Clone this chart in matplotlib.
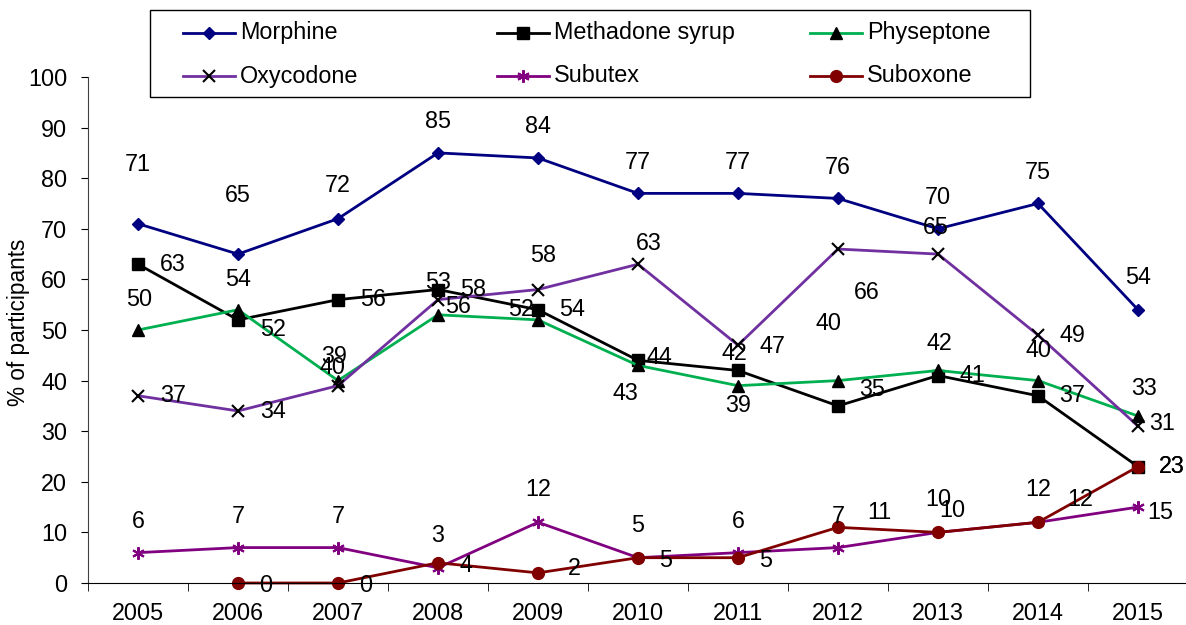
import numpy as np
import matplotlib
matplotlib.use('Agg')
import matplotlib.pyplot as plt
from matplotlib.lines import Line2D
from matplotlib.patches import Rectangle

plt.rcParams['font.family'] = ['Liberation Sans', 'DejaVu Sans']

# data
years = ['2005', '2006', '2007', '2008', '2009', '2010', '2011', '2012', '2013', '2014', '2015']
morphine = [71, 65, 72, 85, 84, 77, 77, 76, 70, 75, 54]
methadone = [63, 52, 56, 58, 54, 44, 42, 35, 41, 37, 23]
physeptone = [50, 54, 40, 53, 52, 43, 39, 40, 42, 40, 33]
oxycodone = [37, 34, 39, 56, 58, 63, 47, 66, 65, 49, 31]
subutex = [6, 7, 7, 3, 12, 5, 6, 7, 10, 12, 15]
suboxone = [np.nan, 0, 0, 4, 2, 5, 5, 11, 10, 12, 23]

# label offsets in pixels (right, down) as placed in the original
morph_off = [(0, -59), (0, -59), (0, -33), (0, -31), (0, -31), (0, -31), (0, -31), (0, -31), (0, -31), (0, -31), (0, -32)]
meth_off = [(35, 0), (35, 10), (35, 0), (35, 0), (34, 0), (21, -3), (-4, -17), (34, -16), (34, 0), (34, 0), (34, 0)]
phys_off = [(1, -31), (0, -30), (-6, -13), (0, -32), (-17, -10), (-13, 28), (0, 20), (-9, -57), (1, -27), (0, -30), (6, -28)]
oxy_off = [(35, 0), (35, 1), (-4, -29), (20, 7), (5, -34), (11, -21), (34, 1), (29, 43), (-2, -27), (34, 0), (24, -3)]
subu_off = [(0, -31), (0, -31), (0, -31), (0, -32), (0, -33), (0, -32), (0, -31), (0, -31), (0, -33), (0, -33), (22, 5)]
subo_off = [None, (28, 2), (28, 2), (28, 3), (36, -4), (28, 3), (28, 3), (41, -15), (14, -22), (42, -23), (34, 0)]

series = [
    ('Morphine', morphine, morph_off, dict(color='#000080', marker='D', ms=6.5, mfc='#000080', mec='#000080')),
    ('Methadone syrup', methadone, meth_off, dict(color='black', marker='s', ms=8, mfc='black', mec='black')),
    ('Physeptone', physeptone, phys_off, dict(color='#00B050', marker='^', ms=9, mfc='black', mec='black')),
    ('Oxycodone', oxycodone, oxy_off, dict(color='#7030A0', marker='x', ms=8, mfc='black', mec='black', mew=1.5)),
    ('Subutex', subutex, subu_off, dict(color='#800080', marker=(6, 2, 0), ms=9, mfc='#800080', mec='#800080', mew=1.5)),
    ('Suboxone', suboxone, subo_off, dict(color='#800000', marker='o', ms=8.5, mfc='#800000', mec='#800000')),
]

FS = 16.8
W, H = 1186, 625
fig = plt.figure(figsize=(W / 100, H / 100), dpi=100)
ax = fig.add_axes([88 / W, (H - 583) / H, 1100 / W, (583 - 77) / H])

x = np.arange(len(years))
for name, vals, offs, st in series:
    ax.plot(x, vals, lw=2, clip_on=False, **st)
for name, vals, offs, st in series:
    for i, v in enumerate(vals):
        if offs[i] is None or np.isnan(v):
            continue
        dx, dy = offs[i]
        ax.annotate(str(int(v)), (x[i], v), xytext=(dx, -dy), textcoords='offset pixels',
                    ha='center', va='center', fontsize=FS)

ax.set_xlim(-0.5, len(years) - 0.5)
ax.set_ylim(0, 100)
ax.set_yticks(range(0, 101, 10))
ax.set_xticks(x)
ax.set_xticklabels(years)
ax.set_xticks(np.arange(-0.5, len(years), 1), minor=True)
ax.tick_params(axis='x', which='major', length=0, labelsize=FS, pad=14)
ax.tick_params(axis='x', which='minor', length=5.5, direction='out')
ax.tick_params(axis='y', length=5, direction='out', labelsize=FS, pad=10)
ax.spines['top'].set_visible(False)
ax.spines['right'].set_visible(False)
ax.spines['left'].set_color('#404040')

# y axis title placed where the original has it
fig.text(19 / W, 1 - 322 / H, '% of participants', rotation=90, ha='center', va='center', fontsize=16.3)

# legend box drawn by hand, Excel-style evenly spaced columns
fig.add_artist(Rectangle((150 / W, 1 - 97 / H), 880 / W, 87 / H, transform=fig.transFigure,
                         fill=False, edgecolor='black', lw=1))
col_x = [183, 497, 810]
row_y = [33, 76]
for k, (name, vals, offs, st) in enumerate(series):
    cx = col_x[k % 3]
    ry = row_y[k // 3]
    fy = 1 - ry / H
    fig.add_artist(Line2D([cx / W, (cx + 52) / W], [fy, fy], lw=2, transform=fig.transFigure,
                          color=st['color']))
    mst = {kk: vv for kk, vv in st.items() if kk != 'color'}
    fig.add_artist(Line2D([(cx + 26) / W], [fy], transform=fig.transFigure, ls='none', **mst))
    fig.text((cx + 57) / W, fy, name, ha='left', va='center', fontsize=FS)

fig.savefig('out.png', dpi=100)
